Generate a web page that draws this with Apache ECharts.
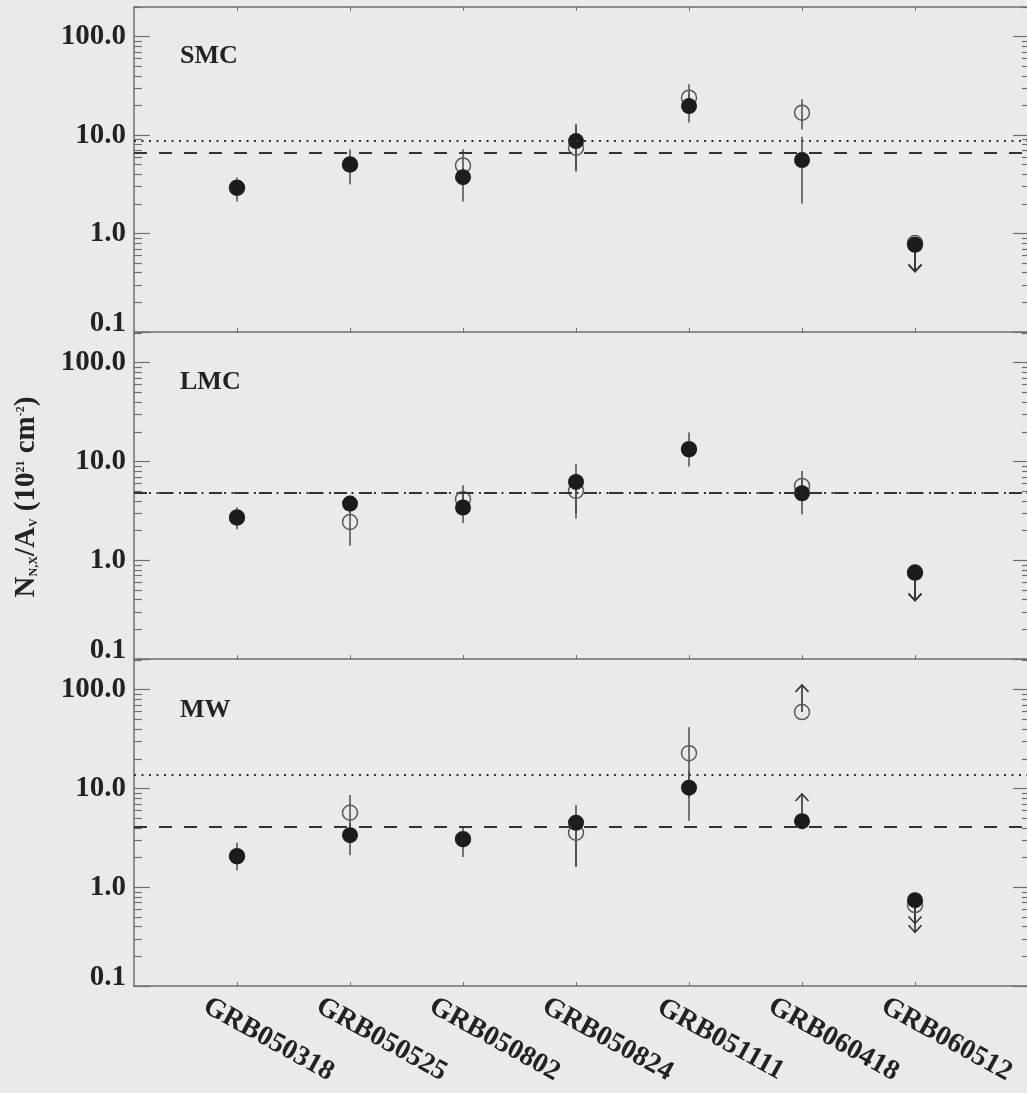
<!DOCTYPE html>
<html>
<head>
<meta charset="utf-8">
<script src="https://cdn.jsdelivr.net/npm/echarts@6/dist/echarts.min.js"></script>
<style>
  html, body { margin: 0; padding: 0; background: #eaeaea; }
  #chart { width: 1027px; height: 1093px; }
</style>
</head>
<body>
<div id="chart"></div>
<script>
// Bursts along the x axis, placed at positions 1..7
const categories = ['GRB050318', 'GRB050525', 'GRB050802', 'GRB050824', 'GRB051111', 'GRB060418', 'GRB060512'];
const categoryPos = [1, 2, 3, 4, 5, 6, 7];

// Log y axis: labelled decades and the 2..9 minor ticks between them
const yTickValues = [0.1, 1, 10, 100];
const yMinorValues = [0.2, 0.3, 0.4, 0.5, 0.6, 0.7, 0.8, 0.9, 2, 3, 4, 5, 6, 7, 8, 9,
                      20, 30, 40, 50, 60, 70, 80, 90, 200];
const panelNames = ['SMC', 'LMC', 'MW'];

// ---- SMC extinction law ----
const smcFilled     = [2.92, 5.03, 3.74, 8.69, 19.7, 5.57, 0.77];
const smcFilledLow  = [2.12, 3.15, 2.12, 4.3, 13.4, 2.02, null];
const smcFilledHigh = [3.71, 7.16, 4.6, 12.8, 26.0, 9.6, null];
const smcOpen       = [2.92, 5.03, 4.92, 7.45, 24.0, 16.9, 0.80];
const smcOpenLow    = [null, null, 3.9, 4.3, 18.0, 11.4, null];
const smcOpenHigh   = [null, null, 7.2, 12.8, 32.8, 23.1, null];
const smcFilledLimit = [null, null, null, null, null, null, 0.41];
const smcOpenLimit   = [null, null, null, null, null, null, 0.41];
const smcDotted = 8.69;
const smcDashed = 6.62;

// ---- LMC extinction law ----
const lmcFilled     = [2.71, 3.75, 3.42, 6.21, 13.3, 4.77, 0.75];
const lmcFilledLow  = [2.06, 3.0, 2.37, 2.64, 8.9, 2.92, null];
const lmcFilledHigh = [3.42, 4.5, 5.0, 9.4, 19.7, 6.5, null];
const lmcOpen       = [2.71, 2.44, 4.15, 5.04, 13.3, 5.66, 0.75];
const lmcOpenLow    = [null, 1.40, 3.0, 3.0, null, 4.0, null];
const lmcOpenHigh   = [null, 3.3, 5.75, 7.5, null, 8.0, null];
const lmcFilledLimit = [null, null, null, null, null, null, 0.39];
const lmcOpenLimit   = [null, null, null, null, null, null, 0.39];
const lmcDotted = 4.88;
const lmcDashed = 4.85;

// ---- Milky Way extinction law ----
const mwFilled     = [2.06, 3.37, 3.07, 4.5, 10.2, 4.67, 0.74];
const mwFilledLow  = [1.49, 2.11, 2.03, 1.61, 4.7, null, null];
const mwFilledHigh = [2.82, 4.5, 4.09, 6.8, 15.0, null, null];
const mwOpen       = [2.06, 5.68, 3.07, 3.56, 22.8, 59.4, 0.66];
const mwOpenLow    = [null, 3.5, null, 1.61, 8.0, null, null];
const mwOpenHigh   = [null, 8.6, null, 5.5, 41.8, null, null];
const mwFilledLimit = [null, null, null, null, null, 8.8, 0.43];
const mwOpenLimit   = [null, null, null, null, null, 112, 0.35];
const mwDotted = 13.7;
const mwDashed = 4.09;

const panels = [
  { filled: smcFilled, fLo: smcFilledLow, fHi: smcFilledHigh, open: smcOpen, oLo: smcOpenLow, oHi: smcOpenHigh,
    fLim: smcFilledLimit, oLim: smcOpenLimit, dotted: smcDotted, dashed: smcDashed },
  { filled: lmcFilled, fLo: lmcFilledLow, fHi: lmcFilledHigh, open: lmcOpen, oLo: lmcOpenLow, oHi: lmcOpenHigh,
    fLim: lmcFilledLimit, oLim: lmcOpenLimit, dotted: lmcDotted, dashed: lmcDashed },
  { filled: mwFilled, fLo: mwFilledLow, fHi: mwFilledHigh, open: mwOpen, oLo: mwOpenLow, oHi: mwOpenHigh,
    fLim: mwFilledLimit, oLim: mwOpenLimit, dotted: mwDotted, dashed: mwDashed }
];

const SERIF = '"Liberation Serif", "DejaVu Serif", serif';
const TEXT = '#222';
const AXIS = '#6e6e6e';
const X_MIN = 0.0885, X_MAX = 7.991;

const gridBoxes = [
  { left: 134, right: 0, top: 7, height: 325 },
  { left: 134, right: 0, top: 333, height: 326 },
  { left: 134, right: 0, top: 660, height: 326 }
];

function pairs(pos, a, b) {
  const out = [];
  pos.forEach((x, i) => { if (a[i] != null && b[i] != null) out.push([x, a[i], b[i]]); });
  return out;
}
function points(pos, v) {
  const out = [];
  pos.forEach((x, i) => { if (v[i] != null) out.push([x, v[i]]); });
  return out;
}

function renderErrorBar(params, api) {
  const x = api.value(0);
  const p1 = api.coord([x, api.value(1)]);
  const p2 = api.coord([x, api.value(2)]);
  return {
    type: 'line',
    shape: { x1: p1[0], y1: p1[1], x2: p2[0], y2: p2[1] },
    style: { stroke: '#4a4a4a', lineWidth: 1.5 }
  };
}

function renderArrow(params, api) {
  const x = api.value(0);
  const a = api.coord([x, api.value(1)]);
  const b = api.coord([x, api.value(2)]);
  const dir = b[1] > a[1] ? 1 : -1;
  const w = 6.5, h = 7;
  return {
    type: 'group',
    children: [
      { type: 'line', shape: { x1: a[0], y1: a[1], x2: b[0], y2: b[1] },
        style: { stroke: '#333', lineWidth: 1.6 } },
      { type: 'polyline', shape: { points: [[b[0] - w, b[1] - dir * h], [b[0], b[1]], [b[0] + w, b[1] - dir * h]] },
        style: { stroke: '#333', fill: null, lineWidth: 1.6 } }
    ]
  };
}

const xAxes = [], yAxes = [], series = [];

panels.forEach((p, g) => {
  const isLast = g === panels.length - 1;
  // bottom axis of the panel
  const xIdx = xAxes.length;
  xAxes.push({
    type: 'value', gridIndex: g, position: 'bottom', min: X_MIN, max: X_MAX,
    splitLine: { show: false },
    axisLine: { show: true, onZero: false, lineStyle: { color: AXIS, width: 1.5 } },
    axisTick: { show: true, inside: true, length: 4, customValues: categoryPos, lineStyle: { color: AXIS, width: 1 } },
    axisLabel: {
      show: isLast, customValues: categoryPos, rotate: -29, margin: 36,
      align: 'center', verticalAlign: 'middle', padding: [0, 0, 0, 72],
      fontFamily: SERIF, fontWeight: 'bold', fontSize: 28, color: TEXT,
      formatter: v => categories[Math.round(v) - 1]
    }
  });
  if (g === 0) {
    xAxes.push({
      type: 'value', gridIndex: g, position: 'top', min: X_MIN, max: X_MAX,
      splitLine: { show: false },
      axisLine: { show: true, onZero: false, lineStyle: { color: AXIS, width: 1.5 } },
      axisTick: { show: true, inside: true, length: 4, customValues: categoryPos, lineStyle: { color: AXIS, width: 1 } },
      axisLabel: { show: false }
    });
  }

  const yIdx = yAxes.length;
  const baseY = {
    type: 'log', logBase: 10, gridIndex: g, min: 0.1, max: 200,
    splitLine: { show: false }, minorTick: { show: false }
  };
  // left: decade ticks with labels
  yAxes.push(Object.assign({}, baseY, {
    position: 'left',
    axisLine: { show: true, onZero: false, lineStyle: { color: AXIS, width: 1.5 } },
    axisTick: { show: true, inside: true, length: 16, customValues: yTickValues, lineStyle: { color: AXIS, width: 1.2 } },
    axisLabel: {
      show: true, customValues: yTickValues, margin: 8,
      fontFamily: SERIF, fontWeight: 'bold', fontSize: 29, color: TEXT,
      formatter: v => v < 0.5 ? '{lo|0.1}' : v.toFixed(1),
      rich: { lo: { fontFamily: SERIF, fontWeight: 'bold', fontSize: 29, color: TEXT, padding: [0, 0, 16, 0] } }
    }
  }));
  // left: minor ticks
  yAxes.push(Object.assign({}, baseY, {
    position: 'left',
    axisLine: { show: false },
    axisTick: { show: true, inside: true, length: 8, customValues: yMinorValues, lineStyle: { color: AXIS, width: 1.2 } },
    axisLabel: { show: false }
  }));
  // right: decade ticks (frame edge itself falls at the page border)
  yAxes.push(Object.assign({}, baseY, {
    position: 'right',
    axisLine: { show: false },
    axisTick: { show: true, inside: true, length: 14, customValues: yTickValues, lineStyle: { color: AXIS, width: 1.2 } },
    axisLabel: { show: false }
  }));
  // right: minor ticks
  yAxes.push(Object.assign({}, baseY, {
    position: 'right',
    axisLine: { show: false },
    axisTick: { show: true, inside: true, length: 5, customValues: yMinorValues, lineStyle: { color: AXIS, width: 1.2 } },
    axisLabel: { show: false }
  }));

  const common = { xAxisIndex: xIdx, yAxisIndex: yIdx, silent: true, animation: false };

  // reference levels (dotted and dashed)
  series.push(Object.assign({}, common, {
    type: 'scatter', data: [], symbolSize: 0,
    markLine: {
      silent: true, symbol: 'none', animation: false, label: { show: false },
      data: [
        { yAxis: p.dotted, lineStyle: { color: '#333', width: 2, type: [2, 5.5] } },
        { yAxis: p.dashed, lineStyle: { color: '#333', width: 2, type: [13, 12] } }
      ]
    }
  }));
  // error bars
  series.push(Object.assign({}, common, {
    type: 'custom', renderItem: renderErrorBar, encode: { x: 0, y: [1, 2] },
    data: pairs(categoryPos, p.oLo, p.oHi)
  }));
  series.push(Object.assign({}, common, {
    type: 'custom', renderItem: renderErrorBar, encode: { x: 0, y: [1, 2] },
    data: pairs(categoryPos, p.fLo, p.fHi)
  }));
  // limit arrows: from the measured value to the arrow tip
  series.push(Object.assign({}, common, {
    type: 'custom', renderItem: renderArrow, encode: { x: 0, y: [1, 2] },
    data: pairs(categoryPos, p.open, p.oLim)
  }));
  series.push(Object.assign({}, common, {
    type: 'custom', renderItem: renderArrow, encode: { x: 0, y: [1, 2] },
    data: pairs(categoryPos, p.filled, p.fLim)
  }));
  // open circles
  series.push(Object.assign({}, common, {
    type: 'scatter', symbol: 'circle', symbolSize: 15,
    itemStyle: { color: 'rgba(0,0,0,0)', borderColor: '#5a5a5a', borderWidth: 1.5, opacity: 1 },
    data: points(categoryPos, p.open)
  }));
  // filled circles
  series.push(Object.assign({}, common, {
    type: 'scatter', symbol: 'circle', symbolSize: 16,
    itemStyle: { color: '#1c1c1c', opacity: 1 },
    data: points(categoryPos, p.filled)
  }));
});

const panelLabelY = [58, 384, 712];
const graphics = panelNames.map((name, i) => ({
  type: 'text', left: 180, top: panelLabelY[i] - 15, silent: true,
  style: { text: name, fontFamily: SERIF, fontWeight: 'bold', fontSize: 26, fill: TEXT }
}));

graphics.push({
  type: 'text', x: 27, y: 497, rotation: Math.PI / 2, silent: true,
  style: {
    text: '{b|N}{s|N,X}{b|/A}{s|V}{b| (10}{p|21}{b| cm}{p|-2}{b|)}',
    align: 'center', verticalAlign: 'middle',
    rich: {
      b: { fontFamily: SERIF, fontWeight: 'bold', fontSize: 29, fill: TEXT, lineHeight: 34, verticalAlign: 'middle' },
      s: { fontFamily: SERIF, fontWeight: 'bold', fontSize: 12, fill: TEXT, lineHeight: 34, verticalAlign: 'bottom', padding: [0, 0, 4, 0] },
      p: { fontFamily: SERIF, fontWeight: 'bold', fontSize: 12, fill: TEXT, lineHeight: 34, verticalAlign: 'top', padding: [5, 0, 0, 0] }
    }
  }
});

const chart = echarts.init(document.getElementById('chart'), null, { renderer: 'canvas' });
chart.setOption({
  backgroundColor: '#eaeaea',
  animation: false,
  grid: gridBoxes,
  xAxis: xAxes,
  yAxis: yAxes,
  series: series,
  graphic: graphics
});
</script>
</body>
</html>
